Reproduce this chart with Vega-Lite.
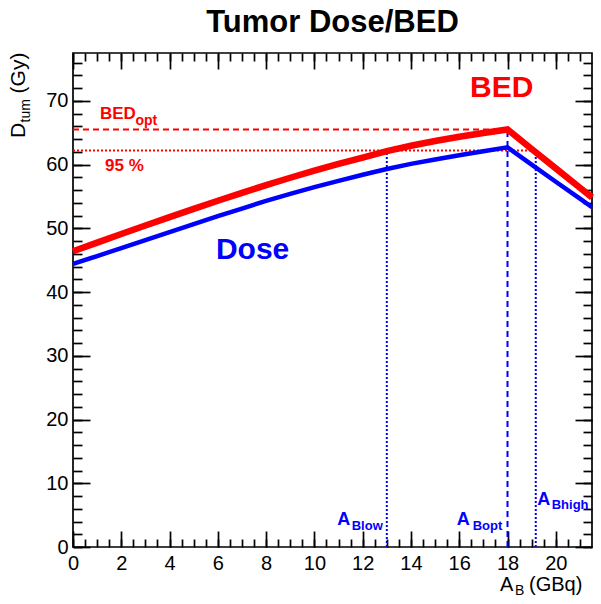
{
  "$schema": "https://vega.github.io/schema/vega-lite/v6.json",
  "width": 519,
  "height": 494,
  "autosize": {"type": "none"},
  "padding": {"left": 73, "top": 53, "right": 9, "bottom": 57},
  "background": "white",
  "title": {"text": "Tumor Dose/BED", "font": "Liberation Sans", "fontSize": 31, "fontWeight": "bold", "color": "black", "baseline": "alphabetic", "offset": -11, "anchor": "middle"},
  "config": {
    "view": {"stroke": "black", "strokeWidth": 1.7},
    "axis": {"domain": false, "grid": false, "title": null, "labelFont": "Liberation Sans", "labelFontSize": 20, "labelColor": "black", "tickColor": "black", "tickWidth": 1.7, "labelFlush": false, "labelOverlap": false},
    "text": {"font": "Liberation Sans"}
  },
  "datasets": {
    "curves": [
      {"A": 0, "D": 46.4, "series": "BED"}, {"A": 1, "D": 47.75, "series": "BED"}, {"A": 2, "D": 49.1, "series": "BED"}, {"A": 3, "D": 50.43, "series": "BED"}, {"A": 4, "D": 51.75, "series": "BED"}, {"A": 5, "D": 53.05, "series": "BED"}, {"A": 6, "D": 54.32, "series": "BED"}, {"A": 7, "D": 55.56, "series": "BED"}, {"A": 8, "D": 56.77, "series": "BED"}, {"A": 9, "D": 57.93, "series": "BED"}, {"A": 10, "D": 59.04, "series": "BED"}, {"A": 11, "D": 60.1, "series": "BED"}, {"A": 12, "D": 61.1, "series": "BED"}, {"A": 13, "D": 62.1, "series": "BED"}, {"A": 14, "D": 62.95, "series": "BED"}, {"A": 15, "D": 63.7, "series": "BED"}, {"A": 16, "D": 64.35, "series": "BED"}, {"A": 17, "D": 64.95, "series": "BED"}, {"A": 18, "D": 65.5, "series": "BED"}, {"A": 19, "D": 62.45, "series": "BED"}, {"A": 20, "D": 59.4, "series": "BED"}, {"A": 21, "D": 56.35, "series": "BED"}, {"A": 21.5, "D": 54.85, "series": "BED"},
      {"A": 0, "D": 44.4, "series": "Dose"}, {"A": 1, "D": 45.65, "series": "Dose"}, {"A": 2, "D": 46.9, "series": "Dose"}, {"A": 3, "D": 48.15, "series": "Dose"}, {"A": 4, "D": 49.4, "series": "Dose"}, {"A": 5, "D": 50.65, "series": "Dose"}, {"A": 6, "D": 51.9, "series": "Dose"}, {"A": 7, "D": 53.1, "series": "Dose"}, {"A": 8, "D": 54.3, "series": "Dose"}, {"A": 9, "D": 55.4, "series": "Dose"}, {"A": 10, "D": 56.45, "series": "Dose"}, {"A": 11, "D": 57.45, "series": "Dose"}, {"A": 12, "D": 58.4, "series": "Dose"}, {"A": 13, "D": 59.3, "series": "Dose"}, {"A": 14, "D": 60.1, "series": "Dose"}, {"A": 15, "D": 60.8, "series": "Dose"}, {"A": 16, "D": 61.45, "series": "Dose"}, {"A": 17, "D": 62.1, "series": "Dose"}, {"A": 18, "D": 62.7, "series": "Dose"}, {"A": 19, "D": 60.0, "series": "Dose"}, {"A": 20, "D": 57.3, "series": "Dose"}, {"A": 21, "D": 54.65, "series": "Dose"}, {"A": 21.5, "D": 53.3, "series": "Dose"}
    ],
    "hrules": [
      {"x": 0, "x2": 18, "y": 65.5, "series": "BED", "style": "dashed"},
      {"x": 0, "x2": 19.17, "y": 62.2, "series": "BED", "style": "dotted"}
    ],
    "vrules": [
      {"x": 13.0, "y": 0, "y2": 62.2, "series": "Dose", "style": "dotted"},
      {"x": 18, "y": 0, "y2": 65.5, "series": "Dose", "style": "dashed"},
      {"x": 19.17, "y": 0, "y2": 62.2, "series": "Dose", "style": "dotted"}
    ],
    "bigLabels": [
      {"text": "BED", "x": 17.76, "y": 70.65, "series": "BED"},
      {"text": "Dose", "x": 7.44, "y": 45.14, "series": "Dose"}
    ],
    "redLabels": [
      {"text": "BED", "x": 1.118, "y": 67.1, "series": "BED"},
      {"text": "95 %", "x": 1.326, "y": 59.04, "series": "BED"}
    ],
    "redSubs": [
      {"text": "opt", "x": 2.59, "y": 66.17, "series": "BED"}
    ],
    "aLabels": [
      {"text": "A", "x": 10.95, "y": 3.45, "series": "Dose"},
      {"text": "A", "x": 15.895, "y": 3.45, "series": "Dose"},
      {"text": "A", "x": 19.234, "y": 6.589, "series": "Dose"}
    ],
    "aSubs": [
      {"text": "Blow", "x": 11.545, "y": 2.667, "series": "Dose"},
      {"text": "Bopt", "x": 16.558, "y": 2.667, "series": "Dose"},
      {"text": "Bhigh", "x": 19.83, "y": 5.915, "series": "Dose"}
    ],
    "xTitle": [
      {"text": "A", "x": 17.69, "y": -6.9},
      {"text": "(GBq)", "x": 18.89, "y": -6.9}
    ],
    "xTitleSub": [
      {"text": "B", "x": 18.31, "y": -7.6}
    ],
    "yTitle": [
      {"text": "D", "x": -1.99, "y": 64.17},
      {"text": "(Gy)", "x": -1.99, "y": 71.16}
    ],
    "yTitleSub": [
      {"text": "tum", "x": -1.78, "y": 66.6}
    ]
  },
  "resolve": {"axis": {"x": "independent", "y": "independent"}},
  "layer": [
    {
      "data": {"name": "hrules"},
      "mark": {"type": "rule", "strokeWidth": 2},
      "encoding": {
        "x": {"field": "x", "type": "quantitative", "scale": {"domain": [0, 21.5], "nice": false, "zero": false}, "axis": {"orient": "bottom", "values": [0, 2, 4, 6, 8, 10, 12, 14, 16, 18, 20], "labels": false, "tickSize": 16, "offset": -16}},
        "x2": {"field": "x2"},
        "y": {"field": "y", "type": "quantitative", "scale": {"domain": [0, 77.5], "nice": false, "zero": false}, "axis": {"orient": "left", "values": [0, 10, 20, 30, 40, 50, 60, 70], "labels": false, "tickSize": 17, "offset": -17}},
        "color": {"field": "series", "type": "nominal", "scale": {"domain": ["BED", "Dose"], "range": ["#ff0000", "#0000ff"]}, "legend": null},
        "strokeDash": {"field": "style", "type": "nominal", "scale": {"domain": ["dashed", "dotted"], "range": [[6, 4], [2, 2]]}, "legend": null}
      }
    },
    {
      "data": {"name": "vrules"},
      "mark": {"type": "rule", "strokeWidth": 2},
      "encoding": {
        "x": {"field": "x", "type": "quantitative", "scale": {"domain": [0, 21.5], "nice": false, "zero": false}, "axis": {"orient": "bottom", "values": [0, 0.5, 1, 1.5, 2, 2.5, 3, 3.5, 4, 4.5, 5, 5.5, 6, 6.5, 7, 7.5, 8, 8.5, 9, 9.5, 10, 10.5, 11, 11.5, 12, 12.5, 13, 13.5, 14, 14.5, 15, 15.5, 16, 16.5, 17, 17.5, 18, 18.5, 19, 19.5, 20, 20.5, 21], "labels": false, "tickSize": 8, "offset": -8}},
        "y": {"field": "y", "type": "quantitative", "scale": {"domain": [0, 77.5], "nice": false, "zero": false}, "axis": {"orient": "left", "values": [0, 2, 4, 6, 8, 10, 12, 14, 16, 18, 20, 22, 24, 26, 28, 30, 32, 34, 36, 38, 40, 42, 44, 46, 48, 50, 52, 54, 56, 58, 60, 62, 64, 66, 68, 70, 72, 74, 76], "labels": false, "tickSize": 9, "offset": -9}},
        "y2": {"field": "y2"},
        "color": {"field": "series", "type": "nominal", "scale": {"domain": ["BED", "Dose"], "range": ["#ff0000", "#0000ff"]}, "legend": null},
        "strokeDash": {"field": "style", "type": "nominal", "scale": {"domain": ["dashed", "dotted"], "range": [[6, 4], [2, 2]]}, "legend": null}
      }
    },
    {
      "data": {"name": "curves"},
      "mark": {"type": "line", "strokeJoin": "miter"},
      "encoding": {
        "x": {"field": "A", "type": "quantitative", "scale": {"domain": [0, 21.5], "nice": false, "zero": false}, "axis": {"orient": "bottom", "values": [0, 2, 4, 6, 8, 10, 12, 14, 16, 18, 20], "ticks": false, "labelPadding": 6}},
        "y": {"field": "D", "type": "quantitative", "scale": {"domain": [0, 77.5], "nice": false, "zero": false}, "axis": {"orient": "left", "values": [0, 10, 20, 30, 40, 50, 60, 70], "ticks": false, "labelPadding": 5}},
        "color": {"field": "series", "type": "nominal", "scale": {"domain": ["BED", "Dose"], "range": ["#ff0000", "#0000ff"]}, "legend": null},
        "strokeWidth": {"field": "series", "type": "ordinal", "scale": {"domain": ["BED", "Dose"], "range": [6.5, 4.5]}, "legend": null}
      }
    },
    {
      "data": {"name": "bigLabels"},
      "mark": {"type": "text", "fontSize": 30, "fontWeight": "bold", "align": "center", "baseline": "alphabetic"},
      "encoding": {
        "x": {"field": "x", "type": "quantitative", "scale": {"domain": [0, 21.5], "nice": false, "zero": false}, "axis": {"orient": "top", "values": [0, 2, 4, 6, 8, 10, 12, 14, 16, 18, 20], "labels": false, "tickSize": 16, "offset": -16}},
        "y": {"field": "y", "type": "quantitative", "scale": {"domain": [0, 77.5], "nice": false, "zero": false}, "axis": {"orient": "right", "values": [0, 10, 20, 30, 40, 50, 60, 70], "labels": false, "tickSize": 17, "offset": -17}},
        "text": {"field": "text"},
        "color": {"field": "series", "type": "nominal", "scale": {"domain": ["BED", "Dose"], "range": ["#ff0000", "#0000ff"]}, "legend": null}
      }
    },
    {
      "data": {"name": "redLabels"},
      "mark": {"type": "text", "fontSize": 17, "fontWeight": "bold", "align": "left", "baseline": "alphabetic"},
      "encoding": {
        "x": {"field": "x", "type": "quantitative", "scale": {"domain": [0, 21.5], "nice": false, "zero": false}, "axis": {"orient": "top", "values": [0, 0.5, 1, 1.5, 2, 2.5, 3, 3.5, 4, 4.5, 5, 5.5, 6, 6.5, 7, 7.5, 8, 8.5, 9, 9.5, 10, 10.5, 11, 11.5, 12, 12.5, 13, 13.5, 14, 14.5, 15, 15.5, 16, 16.5, 17, 17.5, 18, 18.5, 19, 19.5, 20, 20.5, 21], "labels": false, "tickSize": 8, "offset": -8}},
        "y": {"field": "y", "type": "quantitative", "scale": {"domain": [0, 77.5], "nice": false, "zero": false}, "axis": {"orient": "right", "values": [0, 2, 4, 6, 8, 10, 12, 14, 16, 18, 20, 22, 24, 26, 28, 30, 32, 34, 36, 38, 40, 42, 44, 46, 48, 50, 52, 54, 56, 58, 60, 62, 64, 66, 68, 70, 72, 74, 76], "labels": false, "tickSize": 9, "offset": -9}},
        "text": {"field": "text"},
        "color": {"field": "series", "type": "nominal", "scale": {"domain": ["BED", "Dose"], "range": ["#ff0000", "#0000ff"]}, "legend": null}
      }
    },
    {
      "data": {"name": "redSubs"},
      "mark": {"type": "text", "fontSize": 14, "fontWeight": "bold", "align": "left", "baseline": "alphabetic"},
      "encoding": {
        "x": {"field": "x", "type": "quantitative", "scale": {"domain": [0, 21.5], "nice": false, "zero": false}, "axis": null},
        "y": {"field": "y", "type": "quantitative", "scale": {"domain": [0, 77.5], "nice": false, "zero": false}, "axis": null},
        "text": {"field": "text"},
        "color": {"field": "series", "type": "nominal", "scale": {"domain": ["BED", "Dose"], "range": ["#ff0000", "#0000ff"]}, "legend": null}
      }
    },
    {
      "data": {"name": "aLabels"},
      "mark": {"type": "text", "fontSize": 18, "fontWeight": "bold", "align": "left", "baseline": "alphabetic"},
      "encoding": {
        "x": {"field": "x", "type": "quantitative", "scale": {"domain": [0, 21.5], "nice": false, "zero": false}, "axis": null},
        "y": {"field": "y", "type": "quantitative", "scale": {"domain": [0, 77.5], "nice": false, "zero": false}, "axis": null},
        "text": {"field": "text"},
        "color": {"field": "series", "type": "nominal", "scale": {"domain": ["BED", "Dose"], "range": ["#ff0000", "#0000ff"]}, "legend": null}
      }
    },
    {
      "data": {"name": "aSubs"},
      "mark": {"type": "text", "fontSize": 13, "fontWeight": "bold", "align": "left", "baseline": "alphabetic"},
      "encoding": {
        "x": {"field": "x", "type": "quantitative", "scale": {"domain": [0, 21.5], "nice": false, "zero": false}, "axis": null},
        "y": {"field": "y", "type": "quantitative", "scale": {"domain": [0, 77.5], "nice": false, "zero": false}, "axis": null},
        "text": {"field": "text"},
        "color": {"field": "series", "type": "nominal", "scale": {"domain": ["BED", "Dose"], "range": ["#ff0000", "#0000ff"]}, "legend": null}
      }
    },
    {
      "data": {"name": "xTitle"},
      "mark": {"type": "text", "fontSize": 20, "align": "left", "baseline": "alphabetic", "color": "black"},
      "encoding": {
        "x": {"field": "x", "type": "quantitative", "scale": {"domain": [0, 21.5], "nice": false, "zero": false}, "axis": null},
        "y": {"field": "y", "type": "quantitative", "scale": {"domain": [0, 77.5], "nice": false, "zero": false}, "axis": null},
        "text": {"field": "text"}
      }
    },
    {
      "data": {"name": "xTitleSub"},
      "mark": {"type": "text", "fontSize": 14, "align": "left", "baseline": "alphabetic", "color": "black"},
      "encoding": {
        "x": {"field": "x", "type": "quantitative", "scale": {"domain": [0, 21.5], "nice": false, "zero": false}, "axis": null},
        "y": {"field": "y", "type": "quantitative", "scale": {"domain": [0, 77.5], "nice": false, "zero": false}, "axis": null},
        "text": {"field": "text"}
      }
    },
    {
      "data": {"name": "yTitle"},
      "mark": {"type": "text", "fontSize": 21, "align": "left", "baseline": "alphabetic", "angle": 270, "color": "black"},
      "encoding": {
        "x": {"field": "x", "type": "quantitative", "scale": {"domain": [0, 21.5], "nice": false, "zero": false}, "axis": null},
        "y": {"field": "y", "type": "quantitative", "scale": {"domain": [0, 77.5], "nice": false, "zero": false}, "axis": null},
        "text": {"field": "text"}
      }
    },
    {
      "data": {"name": "yTitleSub"},
      "mark": {"type": "text", "fontSize": 14, "align": "left", "baseline": "alphabetic", "angle": 270, "color": "black"},
      "encoding": {
        "x": {"field": "x", "type": "quantitative", "scale": {"domain": [0, 21.5], "nice": false, "zero": false}, "axis": null},
        "y": {"field": "y", "type": "quantitative", "scale": {"domain": [0, 77.5], "nice": false, "zero": false}, "axis": null},
        "text": {"field": "text"}
      }
    }
  ]
}
